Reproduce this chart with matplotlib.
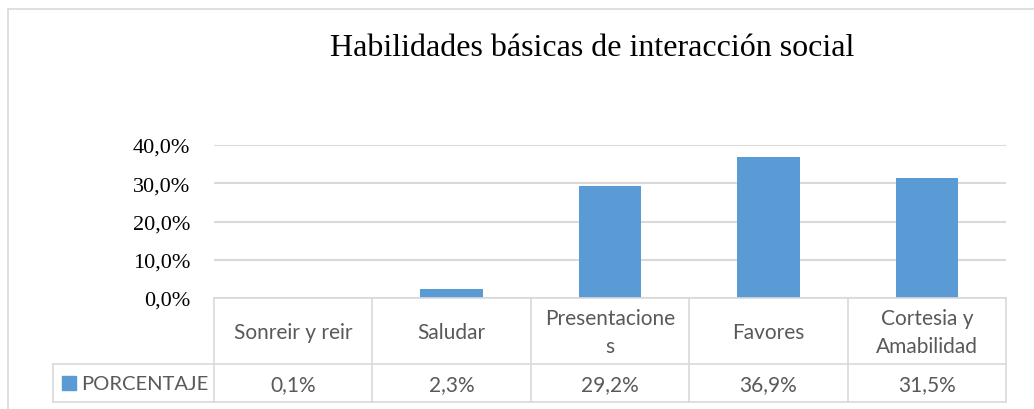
import matplotlib
matplotlib.use("Agg")
import matplotlib.pyplot as plt
from matplotlib.patches import Rectangle
from matplotlib.lines import Line2D
import matplotlib.transforms as mtransforms

title = "Habilidades básicas de interacción social"
categories = ["Sonreir y reir", "Saludar", "Presentacione\ns", "Favores", "Cortesia y\nAmabilidad"]
values = [0.1, 2.3, 29.2, 36.9, 31.5]
value_labels = ["0,1%", "2,3%", "29,2%", "36,9%", "31,5%"]
series_name = "PORCENTAJE"
yticks = [0, 10, 20, 30, 40]
ytick_labels = ["0,0%", "10,0%", "20,0%", "30,0%", "40,0%"]

W, H = 1034, 410
fig = plt.figure(figsize=(W / 100, H / 100), dpi=100)

def fx(px):
    return px / W

def fy(py):
    return 1 - py / H

BAR = "#5b9bd5"
GRID = "#d9d9d9"
TXT = "#595959"
serif = ["Liberation Serif", "DejaVu Serif"]
sans = ["Lato", "DejaVu Sans"]

# outer chart border
fig.patches.append(Rectangle((fx(8), fy(420)), fx(1040) - fx(8), fy(10) - fy(420),
                             transform=fig.transFigure, fill=False, edgecolor=GRID, lw=1.2))

x0, x1, ytop, ybot = 214, 1006, 146, 299
ax = fig.add_axes([fx(x0), fy(ybot), fx(x1) - fx(x0), fy(ytop) - fy(ybot)])
n = len(categories)
ax.bar(range(n), values, width=0.395, color=BAR, zorder=3)
ax.set_xlim(-0.5, n - 0.5)
ax.set_ylim(0, 40)
ax.set_yticks(yticks)
ax.set_yticklabels(ytick_labels, fontfamily=serif, fontsize=16, color="black")
ax.tick_params(axis="y", length=0, pad=17)
ax.set_xticks([])
ax.yaxis.grid(True, color=GRID, lw=1.5, zorder=0)
for s in ax.spines.values():
    s.set_visible(False)

fig.text(fx(592), fy(49), title, ha="center", va="center", fontfamily=serif, fontsize=23, color="black")

# data table below the axis
tr = mtransforms.blended_transform_factory(ax.transData, fig.transFigure)
row1_top, row1_bot, row2_bot = ybot, 365, 403
lw = 1.2
# horizontal lines
fig.add_artist(Line2D([-0.5, n - 0.5], [fy(row1_top)] * 2, transform=tr, color=GRID, lw=lw))
fig.add_artist(Line2D([fx(53), fx(x1)], [fy(row1_bot)] * 2, transform=fig.transFigure, color=GRID, lw=lw))
fig.add_artist(Line2D([fx(53), fx(x1)], [fy(row2_bot)] * 2, transform=fig.transFigure, color=GRID, lw=lw))
# vertical lines
for b in range(n + 1):
    fig.add_artist(Line2D([b - 0.5] * 2, [fy(row1_top), fy(row2_bot)], transform=tr, color=GRID, lw=lw))
fig.add_artist(Line2D([fx(53)] * 2, [fy(row1_bot), fy(row2_bot)], transform=fig.transFigure, color=GRID, lw=lw))

for i, (c, v) in enumerate(zip(categories, value_labels)):
    fig.text(i, fy((row1_top + row1_bot) / 2 + 1), c, transform=tr, ha="center", va="center",
             fontfamily=sans, fontsize=15, color=TXT, linespacing=1.55)
    fig.text(i, fy((row1_bot + row2_bot) / 2 + 1), v, transform=tr, ha="center", va="center",
             fontfamily=sans, fontsize=15, color=TXT)

# legend key
fig.patches.append(Rectangle((fx(62), fy(391)), fx(14), fy(377) - fy(391),
                             transform=fig.transFigure, color=BAR))
fig.text(fx(81), fy(385), series_name, ha="left", va="center", fontfamily=sans, fontsize=14.5, color=TXT)

fig.savefig("out.png", dpi=100)
